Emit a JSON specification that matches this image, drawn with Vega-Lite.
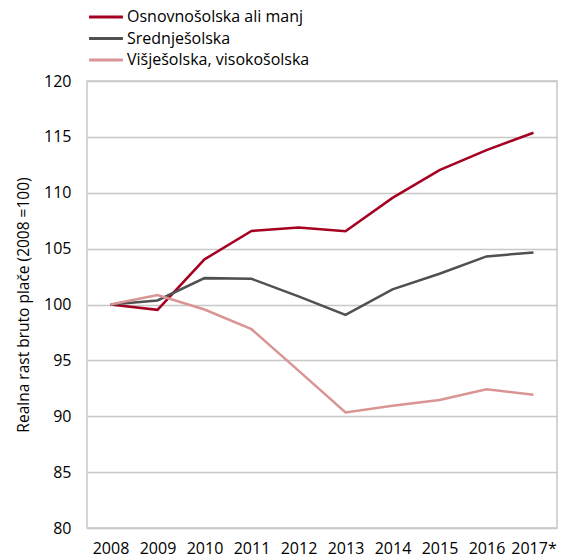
{
  "$schema": "https://vega.github.io/schema/vega-lite/v6.json",
  "width": 470,
  "height": 447,
  "autosize": {"type": "none"},
  "padding": {"left": 87, "top": 81, "right": 7, "bottom": 30},
  "background": "white",
  "config": {
    "view": {"stroke": "#c8c8c8", "strokeWidth": 1.5},
    "font": "Open Sans"
  },
  "data": {
    "values": [
      {"leto": "2008", "skupina": "Osnovnošolska ali manj", "v": 100},
      {"leto": "2009", "skupina": "Osnovnošolska ali manj", "v": 99.52},
      {"leto": "2010", "skupina": "Osnovnošolska ali manj", "v": 104.04},
      {"leto": "2011", "skupina": "Osnovnošolska ali manj", "v": 106.58},
      {"leto": "2012", "skupina": "Osnovnošolska ali manj", "v": 106.9},
      {"leto": "2013", "skupina": "Osnovnošolska ali manj", "v": 106.55},
      {"leto": "2014", "skupina": "Osnovnošolska ali manj", "v": 109.54},
      {"leto": "2015", "skupina": "Osnovnošolska ali manj", "v": 112.02},
      {"leto": "2016", "skupina": "Osnovnošolska ali manj", "v": 113.81},
      {"leto": "2017*", "skupina": "Osnovnošolska ali manj", "v": 115.37},
      {"leto": "2008", "skupina": "Srednješolska", "v": 100},
      {"leto": "2009", "skupina": "Srednješolska", "v": 100.36},
      {"leto": "2010", "skupina": "Srednješolska", "v": 102.36},
      {"leto": "2011", "skupina": "Srednješolska", "v": 102.3},
      {"leto": "2012", "skupina": "Srednješolska", "v": 100.72},
      {"leto": "2013", "skupina": "Srednješolska", "v": 99.07},
      {"leto": "2014", "skupina": "Srednješolska", "v": 101.35},
      {"leto": "2015", "skupina": "Srednješolska", "v": 102.75},
      {"leto": "2016", "skupina": "Srednješolska", "v": 104.3},
      {"leto": "2017*", "skupina": "Srednješolska", "v": 104.66},
      {"leto": "2008", "skupina": "Višješolska, visokošolska", "v": 100},
      {"leto": "2009", "skupina": "Višješolska, visokošolska", "v": 100.84},
      {"leto": "2010", "skupina": "Višješolska, visokošolska", "v": 99.55},
      {"leto": "2011", "skupina": "Višješolska, visokošolska", "v": 97.79},
      {"leto": "2012", "skupina": "Višješolska, visokošolska", "v": 94.08},
      {"leto": "2013", "skupina": "Višješolska, visokošolska", "v": 90.34},
      {"leto": "2014", "skupina": "Višješolska, visokošolska", "v": 90.94},
      {"leto": "2015", "skupina": "Višješolska, visokošolska", "v": 91.45},
      {"leto": "2016", "skupina": "Višješolska, visokošolska", "v": 92.41},
      {"leto": "2017*", "skupina": "Višješolska, visokošolska", "v": 91.93}
    ]
  },
  "mark": {"type": "line", "strokeWidth": 2.5},
  "encoding": {
    "x": {
      "field": "leto",
      "type": "ordinal",
      "scale": {"type": "point", "padding": 0.5},
      "axis": {
        "title": null,
        "labelAngle": 0,
        "ticks": false,
        "domain": false,
        "labelFontSize": 16,
        "labelColor": "#000000",
        "labelPadding": 12
      }
    },
    "y": {
      "field": "v",
      "type": "quantitative",
      "scale": {"domain": [80, 120], "nice": false, "zero": false},
      "axis": {
        "values": [80, 85, 90, 95, 100, 105, 110, 115, 120],
        "title": "Realna rast bruto plače (2008 =100)",
        "titleFontSize": 15.5,
        "titleFontWeight": "normal",
        "titleColor": "#000000",
        "titlePadding": 12,
        "ticks": false,
        "domain": false,
        "gridColor": "#c8c8c8",
        "gridWidth": 1.5,
        "labelFontSize": 16,
        "labelColor": "#000000",
        "labelPadding": 16
      }
    },
    "color": {
      "field": "skupina",
      "type": "nominal",
      "sort": ["Osnovnošolska ali manj", "Srednješolska", "Višješolska, visokošolska"],
      "scale": {
        "domain": ["Osnovnošolska ali manj", "Srednješolska", "Višješolska, visokošolska"],
        "range": ["#a50021", "#505050", "#d99594"]
      },
      "legend": {
        "title": null,
        "orient": "none",
        "legendX": 11,
        "legendY": -72,
        "symbolType": "M-5,0H5",
        "symbolSize": 46,
        "symbolStrokeWidth": 3,
        "labelFontSize": 16,
        "labelLimit": 0,
        "labelColor": "#000000",
        "labelOffset": 13,
        "rowPadding": 5.5
      }
    }
  }
}
